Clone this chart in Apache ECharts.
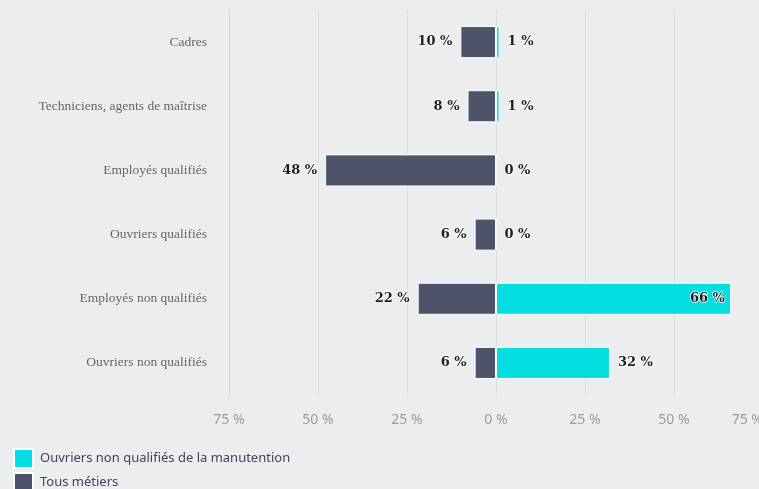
<!DOCTYPE html>
<html>
<head>
<meta charset="utf-8">
<script src="https://cdn.jsdelivr.net/npm/echarts@6/dist/echarts.min.js"></script>
<style>
  html, body { margin: 0; padding: 0; background: #ecedef; }
  #chart { width: 759px; height: 489px; }
</style>
</head>
<body>
<div id="chart"></div>
<script>
// Catégories socioprofessionnelles (de haut en bas)
const categories = [
  'Cadres',
  'Techniciens, agents de maîtrise',
  'Employés qualifiés',
  'Ouvriers qualifiés',
  'Employés non qualifiés',
  'Ouvriers non qualifiés'
];
// Part (%) pour les ouvriers non qualifiés de la manutention
const manutention = [1, 1, 0, 0, 66, 32];
// Part (%) pour l'ensemble des métiers (tracée vers la gauche)
const tousMetiers = [10, 8, 48, 6, 22, 6];
// Graduations de l'axe horizontal
const xTicks = [-75, -50, -25, 0, 25, 50, 75];

const CYAN = '#03dfe0';
const DARK = '#4d5369';
const GRID = '#dedfe2';

const labelStyle = {
  show: true,
  fontFamily: 'DejaVu Serif',
  fontWeight: 'bold',
  fontSize: 13,
  color: '#1e1e1e',
  textBorderColor: '#fff',
  textBorderWidth: 1.5,
  distance: 8,
  formatter: p => Math.abs(p.value) + ' %'
};

const chart = echarts.init(document.getElementById('chart'), null, { renderer: 'canvas' });

chart.setOption({
  backgroundColor: '#ecedef',
  animation: false,
  grid: {
    left: 229, right: -4, top: 10, bottom: 94,
    containLabel: false,
    outerBoundsMode: 'none'
  },
  legend: {
    orient: 'vertical',
    left: 13,
    top: 448,
    padding: 0,
    height: 60,
    itemWidth: 19,
    itemHeight: 19,
    itemGap: 3,
    icon: 'rect',
    textStyle: { fontFamily: 'Noto Sans', fontSize: 13, color: '#3e4461', padding: [0, 0, 0, 2] },
    data: ['Ouvriers non qualifiés de la manutention', 'Tous métiers']
  },
  xAxis: {
    type: 'value',
    min: xTicks[0],
    max: xTicks[xTicks.length - 1],
    interval: 25,
    axisLine: { show: false },
    axisTick: { show: false },
    splitLine: {
      show: true,
      // the leftmost line is left to the category axis line
      lineStyle: { color: xTicks.map((t, i) => i === 0 ? 'rgba(0,0,0,0)' : GRID), width: 1 }
    },
    axisLabel: {
      margin: 18,
      fontFamily: 'Noto Sans',
      fontSize: 14,
      color: '#9c9c9c',
      alignMaxLabel: 'right',
      formatter: v => Math.abs(v) + ' %'
    }
  },
  yAxis: {
    type: 'category',
    inverse: true,
    data: categories,
    axisLine: { show: true, onZero: false, lineStyle: { color: '#ccd6eb' } },
    axisTick: { show: false },
    splitLine: { show: false },
    axisLabel: {
      margin: 22,
      fontFamily: 'Liberation Serif',
      fontSize: 13.5,
      color: '#666'
    }
  },
  series: [
    {
      name: 'Ouvriers non qualifiés de la manutention',
      type: 'bar',
      barWidth: '50%',
      barGap: '-100%',
      itemStyle: { color: CYAN, borderColor: '#fff', borderWidth: 1 },
      label: Object.assign({}, labelStyle, { position: 'right' }),
      data: manutention.map(v => v >= 50
        ? { value: v, label: { position: 'insideRight', distance: 6 } }
        : v)
    },
    {
      name: 'Tous métiers',
      type: 'bar',
      barWidth: '50%',
      barGap: '-100%',
      itemStyle: { color: DARK, borderColor: '#fff', borderWidth: 1 },
      label: Object.assign({}, labelStyle, { position: 'left' }),
      data: tousMetiers.map(v => -v)
    }
  ]
});
</script>
</body>
</html>
